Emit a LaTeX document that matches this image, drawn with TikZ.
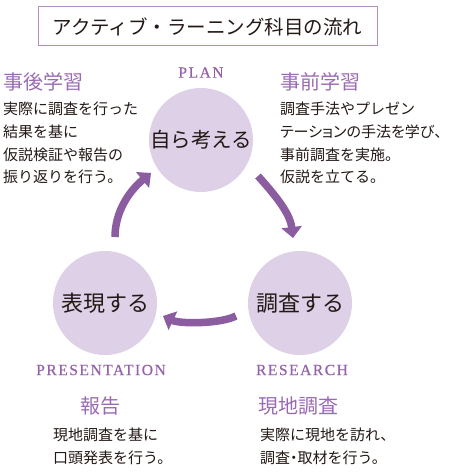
\documentclass[tikz,border=0pt]{standalone}
\usepackage{fontspec}
\setmainfont{Liberation Serif}
\newfontfamily\jp{Noto Sans CJK JP}
\newfontfamily\jpp[RawFeature=+palt]{Noto Sans CJK JP}
\newfontfamily\lbl[LetterSpace=10,FakeBold=0.6]{Liberation Serif}
\usetikzlibrary{arrows.meta}
\definecolor{circfill}{HTML}{DDD0E7}
\definecolor{arrc}{HTML}{8B5CA0}
\definecolor{headc}{HTML}{9A6BB2}
\definecolor{labc}{HTML}{9462A9}
\definecolor{boxc}{HTML}{B48CC8}
\definecolor{textc}{HTML}{231815}
\begin{document}
\begin{tikzpicture}[x=1pt,y=-1pt,
  circ/.style={circle, fill=circfill, minimum size=104pt, inner sep=0pt, text=textc, font=\jp\fontsize{22}{22}\selectfont},
  headtxt/.style={anchor=west, inner sep=0pt, text=headc, font=\jp\fontsize{20}{20}\selectfont},
  bodytxt/.style={anchor=north west, inner sep=0pt, align=left, text=textc, font=\jp\fontsize{15}{22.7}\selectfont},
  labtxt/.style={inner sep=0pt, text=labc, font=\lbl\fontsize{15.5}{15.5}\selectfont},
  cyclearrow/.style={draw=arrc, line width=7.5pt, -{Triangle[width=20pt,length=11pt]}}]
\useasboundingbox (0,0) rectangle (450,473);
% title
\node[draw=boxc, line width=1pt, minimum width=339pt, minimum height=39pt, inner sep=0pt, text=textc,
  font=\jp\fontsize{19.5}{19.5}\selectfont] (title) at (207.5,26.5) {アクティブ・ラーニング科目の流れ};
% circles
\node[circ, font=\jp\fontsize{20.5}{20.5}\selectfont] (plan) at (201,140) {自ら考える};
\node[circ] (pres) at (105,303) {表現する};
\node[circ] (res) at (300,303) {調査する};
% labels
\node[labtxt] (planlab) at (201,72.5) {PLAN};
\node[labtxt] (preslab) at (101,370) {PRESENTATION};
\node[labtxt] (reslab) at (302,370) {RESEARCH};
% headings and bodies
\node[headtxt] (h1) at (3,82) {事後学習};
\node[bodytxt] (b1) at (3,102) {実際に調査を行った\\結果を基に\\仮説検証や報告の\\振り返りを行う。};
\node[headtxt] (h2) at (280,82) {事前学習};
\node[bodytxt] (b2) at (280,102) {調査手法やプレゼン\\{\jpp テーションの手法を学び、}\\事前調査を実施。\\仮説を立てる。};
\node[headtxt] (h3) at (80,406) {報告};
\node[bodytxt] (b3) at (53,428) {現地調査を基に\\口頭発表を行う。};
\node[headtxt] (h4) at (258,406) {現地調査};
\node[bodytxt] (b4) at (260,428) {実際に現地を訪れ、\\調査{\jpp ・}取材を行う。};
% arrows
\coordinate (a1s) at (258,176);
\coordinate (a1e) at (293,238);
\coordinate (a2s) at (236,316);
\coordinate (a2e) at (163,316);
\coordinate (a3s) at (115,237);
\coordinate (a3e) at (151,173);
\draw[cyclearrow] (a1s) .. controls (275,195) and (290,213) .. (a1e);
\draw[cyclearrow] (a2s) .. controls (220,324) and (180,324) .. (a2e);
\draw[cyclearrow] (a3s) .. controls (115,213) and (128,192) .. (a3e);
\end{tikzpicture}
\end{document}
